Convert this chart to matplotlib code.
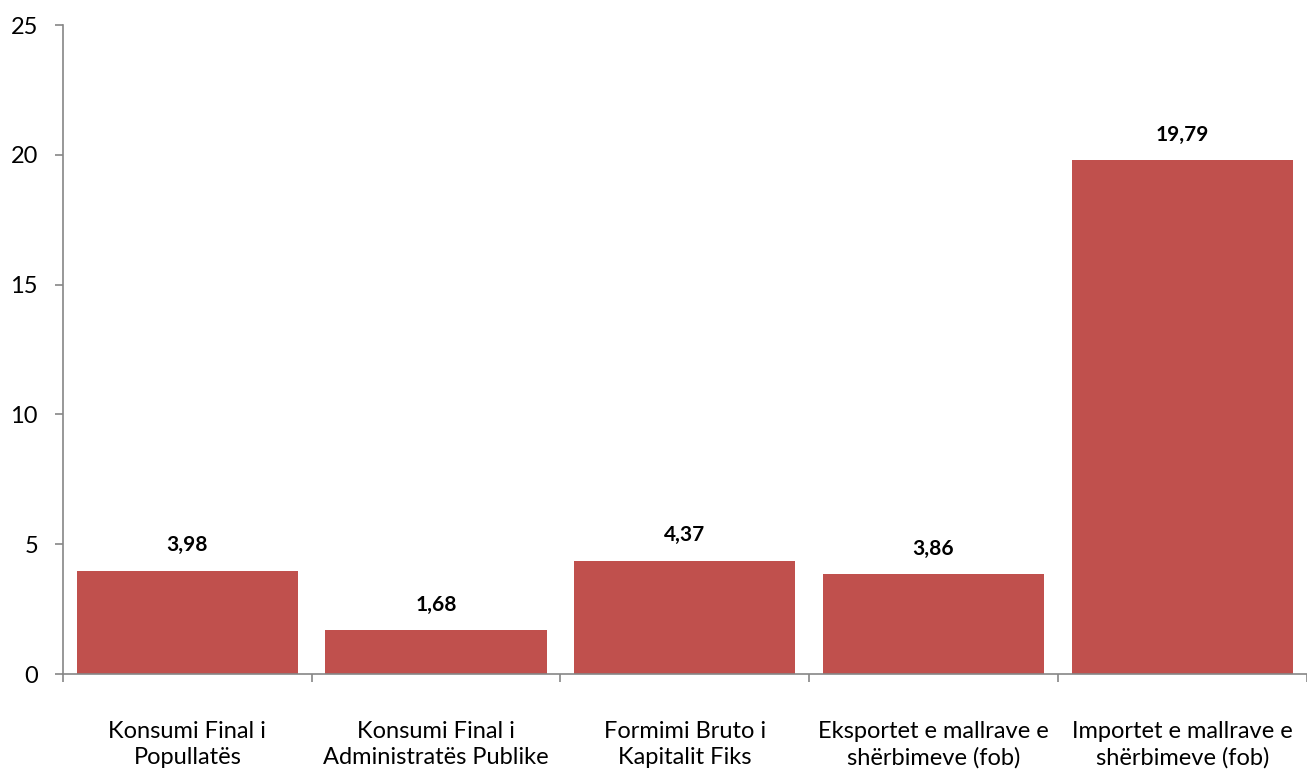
import matplotlib.pyplot as plt
import numpy as np

categories = [
    "Konsumi Final i\nPopullatës",
    "Konsumi Final i\nAdministratës Publike",
    "Formimi Bruto i\nKapitalit Fiks",
    "Eksportet e mallrave e\nshërbimeve (fob)",
    "Importet e mallrave e\nshërbimeve (fob)",
]
values = [3.98, 1.68, 4.37, 3.86, 19.79]
value_labels = ["3,98", "1,68", "4,37", "3,86", "19,79"]

plt.rcParams['font.family'] = ['Lato', 'DejaVu Sans']

fig = plt.figure(figsize=(13.07, 7.72), dpi=100)
ax = fig.add_axes([0.0482, 0.1269, 0.9515, 0.8407])

x = np.arange(len(categories))
bars = ax.bar(x, values, width=0.89, color='#C0504D', zorder=2)

for b, lab in zip(bars, value_labels):
    ax.annotate(lab, (b.get_x() + b.get_width() / 2, b.get_height()),
                xytext=(0, 11), textcoords='offset points',
                ha='center', va='bottom', fontsize=15, fontweight='bold')

ax.set_xlim(-0.5, len(categories) - 0.5)
ax.set_ylim(0, 25)
ax.set_yticks([0, 5, 10, 15, 20, 25])

ax.set_xticks(x)
ax.set_xticklabels(categories, fontsize=17, linespacing=1.3)
ax.set_xticks(np.arange(len(categories) + 1) - 0.5, minor=True)
ax.tick_params(axis='x', which='major', length=0, pad=34)
ax.tick_params(axis='x', which='minor', length=6, color='#868686', width=1.2)
ax.tick_params(axis='y', labelsize=17, length=6, color='#868686', width=1.2, pad=12)

for s in ['top', 'right']:
    ax.spines[s].set_visible(False)
for s in ['left', 'bottom']:
    ax.spines[s].set_color('#868686')
    ax.spines[s].set_linewidth(1.2)

fig.savefig('out.png', dpi=100)
